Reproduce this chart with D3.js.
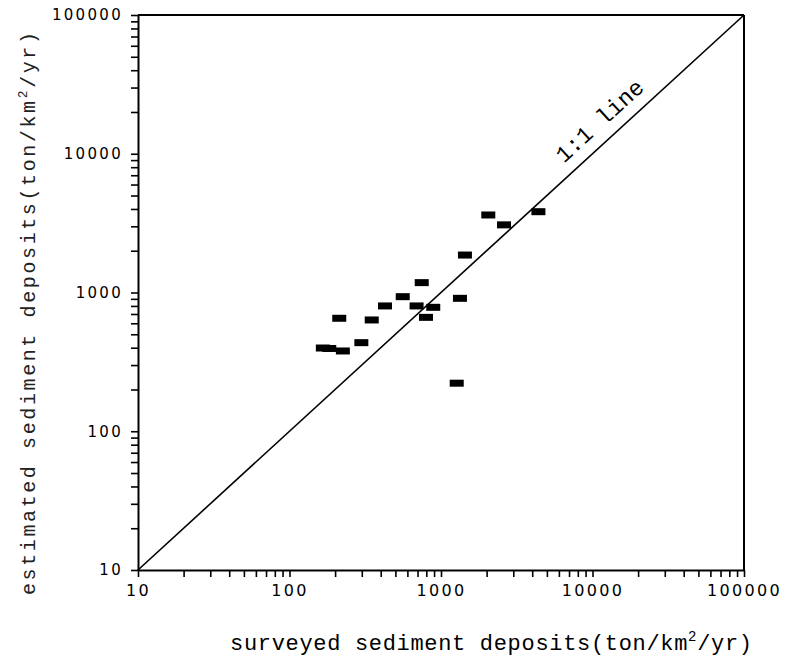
<!DOCTYPE html>
<html>
<head>
<meta charset="UTF-8">
<script src="https://d3js.org/d3.v7.min.js"></script>
<style>
  body { margin: 0; background: #fff; }
  .tick text { font-family: "DejaVu Sans", sans-serif; fill: #000; }
  .xax .tick text { font-size: 16px; letter-spacing: 2.3px; }
  .yax .tick text { font-size: 15px; letter-spacing: 2.3px; }
  .domain, .tick line { stroke: #000; }
</style>
</head>
<body>
<svg width="787" height="661"></svg>
<script>
// surveyed (x) vs estimated (y) sediment deposits, ton/km2/yr
var surveyed  = [166, 183, 225, 298, 213, 349, 427, 559, 746, 690, 889, 796, 1334, 1439, 2052, 2606, 4395, 1270];
var estimated = [398, 395, 379, 435, 652, 634, 800, 933, 1178, 800, 782, 662, 908, 1862, 3620, 3073, 3823, 222];
var majorTicks = [10, 100, 1000, 10000, 100000];

var svg = d3.select("svg");
var pLeft = 138, pRight = 744, pTop = 15, pBottom = 570;

var x = d3.scaleLog().domain([10, 100000]).range([pLeft, pRight]);
var y = d3.scaleLog().domain([10, 100000]).range([pBottom, pTop]);

// minor ticks 1..9 per decade
var allTicks = [];
majorTicks.forEach(function(m, i) {
    if (i == majorTicks.length - 1) { allTicks.push(m); return; }
    for (var k = 1; k < 10; k++) allTicks.push(m * k);
});
function fmt(d) { return majorTicks.indexOf(d) >= 0 ? d3.format("d")(d) : ""; }

var gx = svg.append("g")
    .attr("class", "xax")
    .attr("transform", "translate(0," + pBottom + ")")
    .call(d3.axisBottom(x).tickValues(allTicks).tickFormat(fmt).tickSize(7).tickSizeOuter(0).tickPadding(8));
var gy = svg.append("g")
    .attr("class", "yax")
    .attr("transform", "translate(" + pLeft + ",0)")
    .call(d3.axisLeft(y).tickValues(allTicks).tickFormat(fmt).tickSize(7).tickSizeOuter(0).tickPadding(8));
svg.selectAll(".domain").attr("stroke-width", 2);
svg.selectAll(".tick line").attr("stroke-width", 1.6);

// top and right of the frame
svg.append("line").attr("x1", pLeft).attr("x2", pRight).attr("y1", pTop).attr("y2", pTop)
    .attr("stroke", "#000").attr("stroke-width", 2);
svg.append("line").attr("x1", pRight).attr("x2", pRight).attr("y1", pTop).attr("y2", pBottom)
    .attr("stroke", "#000").attr("stroke-width", 2);

// 1:1 line
svg.append("line")
    .attr("x1", x(10)).attr("y1", y(10))
    .attr("x2", x(100000)).attr("y2", y(100000))
    .attr("stroke", "#000").attr("stroke-width", 1.6);

var ang = Math.atan2(y(100000) - y(10), x(100000) - x(10)) * 180 / Math.PI;
svg.append("text")
    .attr("transform", "translate(" + x(13600) + "," + y(13600) + ") rotate(" + ang + ") translate(0,-12)")
    .attr("text-anchor", "middle")
    .attr("font-family", "Liberation Mono, monospace")
    .attr("font-size", "23px")
    .text("1:1 line");

// data markers
svg.selectAll(".pt")
    .data(surveyed)
    .enter()
    .append("rect")
    .attr("class", "pt")
    .attr("x", function(d) { return x(d) - 7; })
    .attr("y", function(d, i) { return y(estimated[i]) - 3.5; })
    .attr("width", 14)
    .attr("height", 7)
    .attr("fill", "#000");

// axis titles
var xt = svg.append("text")
    .attr("x", 230).attr("y", 650)
    .attr("font-family", "Liberation Mono, monospace")
    .attr("font-size", "22px")
    .attr("textLength", 522)
    .attr("lengthAdjust", "spacing");
xt.append("tspan").text("surveyed sediment deposits(ton/km");
xt.append("tspan").attr("dy", -9).attr("font-size", "14px").text("2");
xt.append("tspan").attr("dy", 9).text("/yr)");

var yt = svg.append("text")
    .attr("transform", "translate(35,595) rotate(-90)")
    .attr("font-family", "Liberation Mono, monospace")
    .attr("font-size", "20px")
    .attr("fill", "#222")
    .attr("textLength", 563)
    .attr("lengthAdjust", "spacing");
yt.append("tspan").text("estimated sediment deposits(ton/km");
yt.append("tspan").attr("dy", -8).attr("font-size", "13px").text("2");
yt.append("tspan").attr("dy", 8).text("/yr)");
</script>
</body>
</html>
